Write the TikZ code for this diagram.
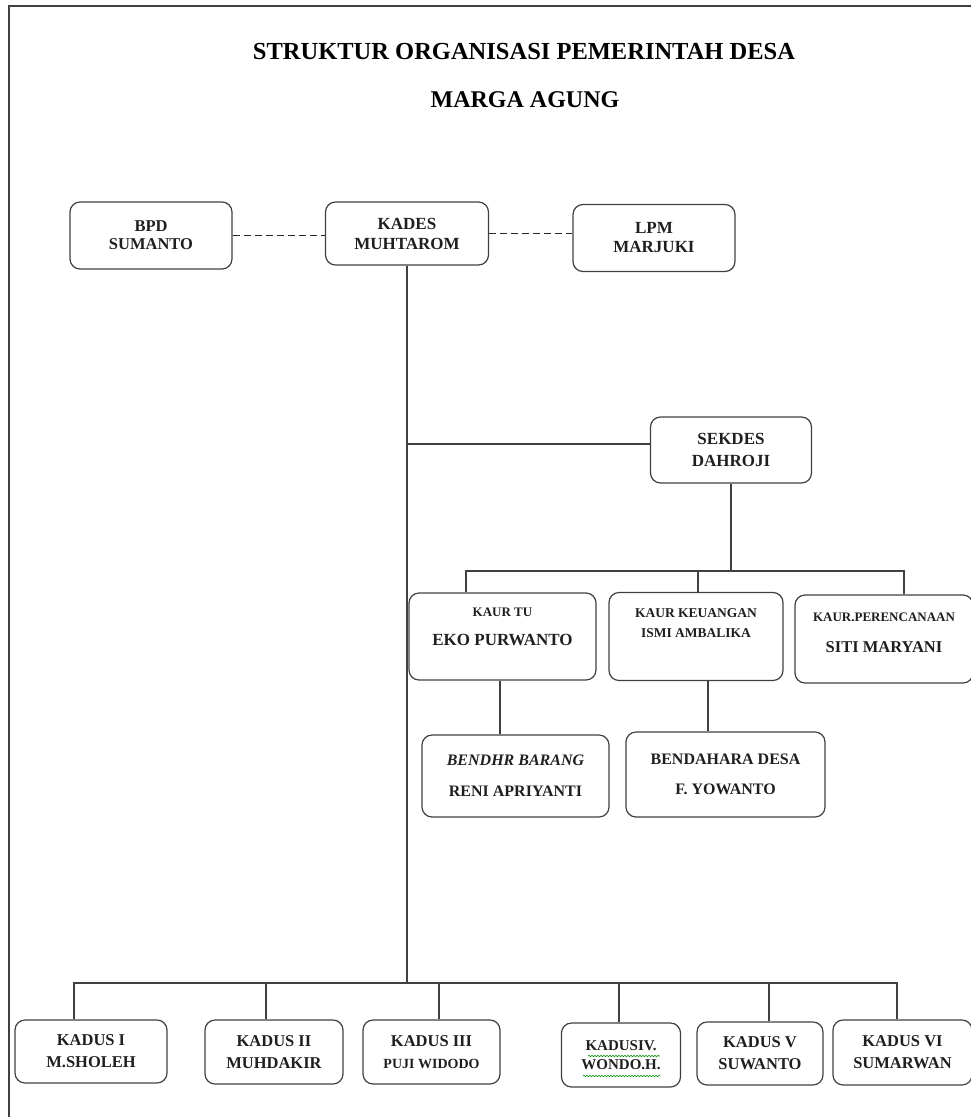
\documentclass[tikz,border=0pt]{standalone}
\usepackage{fontspec}
\setmainfont{Liberation Serif}
\usetikzlibrary{positioning,calc,decorations.pathmorphing}

\newcommand{\fsz}[2]{\bfseries\fontsize{#1}{#2}\selectfont}
\tikzset{
  orgbox/.style={draw=black!75,line width=1.2pt,rounded corners=10pt,align=center,inner sep=0pt,text=black!88},
  link/.style={draw=black!75,line width=1.2pt},
  dashlink/.style={draw=black!85,line width=1.8pt,dash pattern=on 7pt off 4pt},
  spell/.style={draw=green!55!black,line width=0.6pt,decorate,decoration={snake,amplitude=0.7pt,segment length=3pt}}
}

\begin{document}
\begin{tikzpicture}[x=1pt,y=-1pt,font=\bfseries]
\useasboundingbox (0,0) rectangle (971,1117);
% frame
\draw[black!75,line width=2pt] (9,1117) -- (9,6) -- (971,6);
% title
\node[font=\fsz{24.5}{28}] (T1) at (524,52) {STRUKTUR ORGANISASI PEMERINTAH DESA};
\node[font=\fsz{24}{28}] (T2) at (525,100) {MARGA AGUNG};
% top row
\node[orgbox,font=\fsz{16.5}{18},minimum width=162pt,minimum height=67pt] (bpd) at (151,235.5) {BPD\\SUMANTO};
\node[orgbox,font=\fsz{17}{20},minimum width=163pt,minimum height=63pt] (kades) at (407,233.5) {KADES\\MUHTAROM};
\node[orgbox,font=\fsz{17}{19},minimum width=162pt,minimum height=67pt] (lpm) at (654,238) {LPM\\MARJUKI};
\draw[dashlink] (bpd.east) -- (bpd.east -| kades.west);
\draw[dashlink] (kades.east) -- (kades.east -| lpm.west);
% sekdes
\node[orgbox,font=\fsz{17}{22},minimum width=161pt,minimum height=66pt] (sek) at (731,450) {SEKDES\\DAHROJI};
\draw[link] ([yshift=6pt]sek.west) -- ([yshift=6pt]sek.west -| kades.south);
% kaur
\node[orgbox,font=\fsz{13}{29},minimum width=187pt,minimum height=87pt] (ktu) at (502.5,636.5) {KAUR TU\\\fontsize{17}{20}\selectfont EKO PURWANTO\\[-9pt]\mbox{}};
\node[orgbox,font=\fsz{13.5}{20},minimum width=174pt,minimum height=88pt] (kku) at (696,636.5) {KAUR KEUANGAN\\ISMI AMBALIKA\\[7pt]\mbox{}};
\node[orgbox,font=\fsz{13}{31},minimum width=178pt,minimum height=88pt] (kpr) at (884,639) {KAUR.PERENCANAAN\\\fontsize{16.5}{20}\selectfont SITI MARYANI\\[-18pt]\mbox{}};
\coordinate (sbus) at (731,571);
\draw[link] (sek.south) -- (sbus);
\draw[link] ([xshift=-36.5pt]ktu.north) |- (sbus) -| ([xshift=20pt]kpr.north);
\draw[link] ([xshift=2pt]kku.north) -- ([xshift=2pt]kku.north |- sbus);
% bendahara
\node[orgbox,font=\fsz{16}{31},minimum width=187pt,minimum height=82pt] (bbr) at (515.5,776) {\itshape BENDHR BARANG\\RENI APRIYANTI};
\node[orgbox,font=\fsz{16}{30},minimum width=199pt,minimum height=85pt] (bds) at (725.5,774.5) {BENDAHARA DESA\\F. YOWANTO};
\draw[link] ([xshift=-2.5pt]ktu.south) -- ([xshift=-2.5pt]ktu.south |- bbr.north);
\draw[link] ([xshift=12pt]kku.south) -- ([xshift=12pt]kku.south |- bds.north);
% kadus
\node[orgbox,font=\fsz{16.5}{22},minimum width=152pt,minimum height=63pt] (kd1) at (91,1051.5) {KADUS I\\M.SHOLEH};
\node[orgbox,font=\fsz{16.5}{22},minimum width=138pt,minimum height=64pt] (kd2) at (274,1052) {KADUS II\\MUHDAKIR};
\node[orgbox,font=\fsz{16.5}{22},minimum width=137pt,minimum height=64pt] (kd3) at (431.5,1052) {KADUS III\\\fontsize{14}{17}\selectfont PUJI WIDODO};
\node[orgbox,font=\fsz{15}{19},minimum width=119pt,minimum height=64pt] (kd4) at (621,1055) {KADUSIV.\\WONDO.H.};
\node[orgbox,font=\fsz{16.5}{22},minimum width=126pt,minimum height=63pt] (kd5) at (760,1053.5) {KADUS V\\SUWANTO};
\node[orgbox,font=\fsz{16.5}{22},minimum width=139pt,minimum height=65pt] (kd6) at (902.5,1052.5) {KADUS VI\\SUMARWAN};
\draw[spell] ([xshift=-33pt,yshift=-1pt]kd4.center) -- ++(72,0);
\draw[spell] ([xshift=-38pt,yshift=-21pt]kd4.center) -- ++(77,0);
\coordinate (kbus) at (kades.south |- 0,983);
\draw[link] (kades.south) -- (kbus);
\draw[link] ([xshift=-17pt]kd1.north) |- (kbus) -| ([xshift=-5.5pt]kd6.north);
\foreach \k/\s in {kd2/-8,kd3/7.5,kd4/-2,kd5/9}
  \draw[link] ([xshift=\s pt]\k.north) -- ([xshift=\s pt]\k.north |- kbus);
\end{tikzpicture}
\end{document}
